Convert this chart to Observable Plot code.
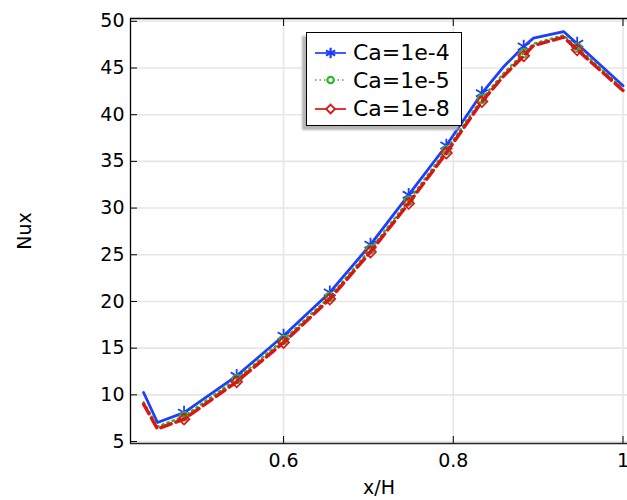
<!DOCTYPE html>
<html><head><meta charset="utf-8">
<script src="https://cdn.jsdelivr.net/npm/d3@7"></script>
<script src="https://cdn.jsdelivr.net/npm/@observablehq/plot@0.6"></script>
<style>
body{margin:0;background:#fff;}
#wrap{position:relative;width:627px;height:500px;font-family:"DejaVu Sans",sans-serif;overflow:hidden;}
#legend{position:absolute;left:306px;top:32px;width:154px;height:92px;background:#fff;border:1px solid #000;box-shadow:-4px 4px 2px #b5b5b5;}
.row{position:absolute;left:0;height:28px;display:flex;align-items:center;font-size:22px;color:#000;white-space:nowrap;}
.row svg{display:block;}
</style></head>
<body><div id="wrap"><div id="chart"></div><div id="legend"></div></div>
<script>
// x/H positions of the curve vertices
const xs = [0.435, 0.4514, 0.4827, 0.5447, 0.6, 0.6545, 0.7024, 0.7474, 0.7918, 0.8337, 0.859, 0.883, 0.8945, 0.93, 0.946, 1.0];
// x/H positions carrying markers
const markX = [0.4827, 0.5447, 0.6, 0.6545, 0.7024, 0.7474, 0.7918, 0.8337, 0.883, 0.946];
// Nux values
const nuCa4 = [10.25, 7.04, 8.1, 12.04, 16.33, 20.97, 26.08, 31.42, 36.7, 42.3, 45.1, 47.3, 48.2, 48.9, 47.6, 43.1];
const nuCa5 = [9.2, 6.6, 7.7, 11.7, 15.9, 20.5, 25.6, 30.8, 36.2, 41.7, 44.4, 46.6, 47.6, 48.5, 47.2, 42.8];
const nuCa8 = [9.0, 6.35, 7.4, 11.4, 15.6, 20.26, 25.3, 30.5, 35.9, 41.4, 44.1, 46.3, 47.4, 48.3, 46.95, 42.6];
const seriesNames = ["Ca=1e-4", "Ca=1e-5", "Ca=1e-8"];
const xTicks = [0.6, 0.8, 1.0];
const yTicks = [5, 10, 15, 20, 25, 30, 35, 40, 45, 50];
const xDomain = [0.4196, 1.0053];
const yDomain = [4.79, 50.3];

const styles = [
  {stroke: "#1f3dff", strokeWidth: 2.8, dash: null, symbol: "asterisk", r: 6.5, mw: 1.8, lr: 5, lw: 2.2},
  {stroke: "#2fb52f", strokeWidth: 2.4, dash: "1.5,4", symbol: "circle", r: 4.3, mw: 1.8, lr: 3.2, lw: 2.2},
  {stroke: "#dc1414", strokeWidth: 3.4, dash: "11,5", symbol: "diamond2", r: 5, mw: 1.6, lr: 4, lw: 1.8}
];
const values = [nuCa4, nuCa5, nuCa8];
const series = values.map((v, k) => xs.map((x, i) => ({x, y: v[i], s: seriesNames[k]})));

const seriesMarks = [];
series.forEach((rows, k) => {
  const st = styles[k];
  seriesMarks.push(Plot.line(rows, {x: "x", y: "y", stroke: st.stroke, strokeWidth: st.strokeWidth, strokeDasharray: st.dash, strokeLinejoin: "round"}));
  seriesMarks.push(Plot.dot(rows.filter(d => markX.includes(d.x)), {x: "x", y: "y", symbol: st.symbol, r: st.r, stroke: st.stroke, strokeWidth: st.mw, fill: "none"}));
});

const grid = {stroke: "#e6e6e6", strokeOpacity: 1, strokeWidth: 1.6};
const chart = Plot.plot({
  width: 627, height: 500,
  marginLeft: 130, marginRight: 0, marginTop: 18, marginBottom: 57,
  style: {fontFamily: "'DejaVu Sans', sans-serif", fontSize: "19px", color: "#000", background: "#fff"},
  x: {domain: xDomain},
  y: {domain: yDomain},
  marks: [
    Plot.gridX(xTicks, grid),
    Plot.gridY(yTicks, grid),
    Plot.axisX(xTicks, {anchor: "bottom", tickSize: -7, tickPadding: 17, tickFormat: d => `${d}`, label: "x/H", labelAnchor: "center", labelArrow: "none", labelOffset: 50}),
    Plot.axisX(xTicks, {anchor: "top", tickSize: -7, tickFormat: () => "", label: null}),
    Plot.axisY(yTicks, {anchor: "left", tickSize: -7, tickPadding: 13, tickFormat: d => `${d}`, label: "Nux", labelAnchor: "center", labelArrow: "none", labelOffset: 113}),
    Plot.ruleX([xDomain[0]], {stroke: "#000", strokeWidth: 1.3}),
    Plot.ruleY([yDomain[0]], {stroke: "#222", strokeWidth: 1.6}),
    Plot.ruleY([yDomain[1]], {stroke: "#000", strokeWidth: 1.3}),
    ...seriesMarks
  ]
});
document.getElementById("chart").appendChild(chart);

// legend
const legend = document.getElementById("legend");
const centers = [19.6, 47.3, 75.6];
seriesNames.forEach((name, k) => {
  const st = styles[k];
  const row = document.createElement("div");
  row.className = "row";
  row.style.top = (centers[k] - 14) + "px";
  const svg = d3.create("svg").attr("width", 45).attr("height", 28);
  svg.append("line").attr("x1", 8).attr("x2", 39).attr("y1", 14).attr("y2", 14)
    .attr("stroke", st.stroke).attr("stroke-width", 1.7)
    .attr("stroke-dasharray", k === 1 ? "1.5,3" : null);
  const sym = {asterisk: d3.symbolAsterisk, circle: d3.symbolCircle, diamond2: d3.symbolDiamond2}[st.symbol];
  svg.append("path").attr("transform", "translate(23.6,14)")
    .attr("d", d3.symbol(sym, st.lr * st.lr * Math.PI)())
    .attr("fill", k === 0 ? "none" : "#fff").attr("stroke", st.stroke).attr("stroke-width", st.lw);
  row.appendChild(svg.node());
  const t = document.createElement("span");
  t.textContent = name;
  t.style.marginLeft = "1px";
  row.appendChild(t);
  legend.appendChild(row);
});
</script>
</body></html>
